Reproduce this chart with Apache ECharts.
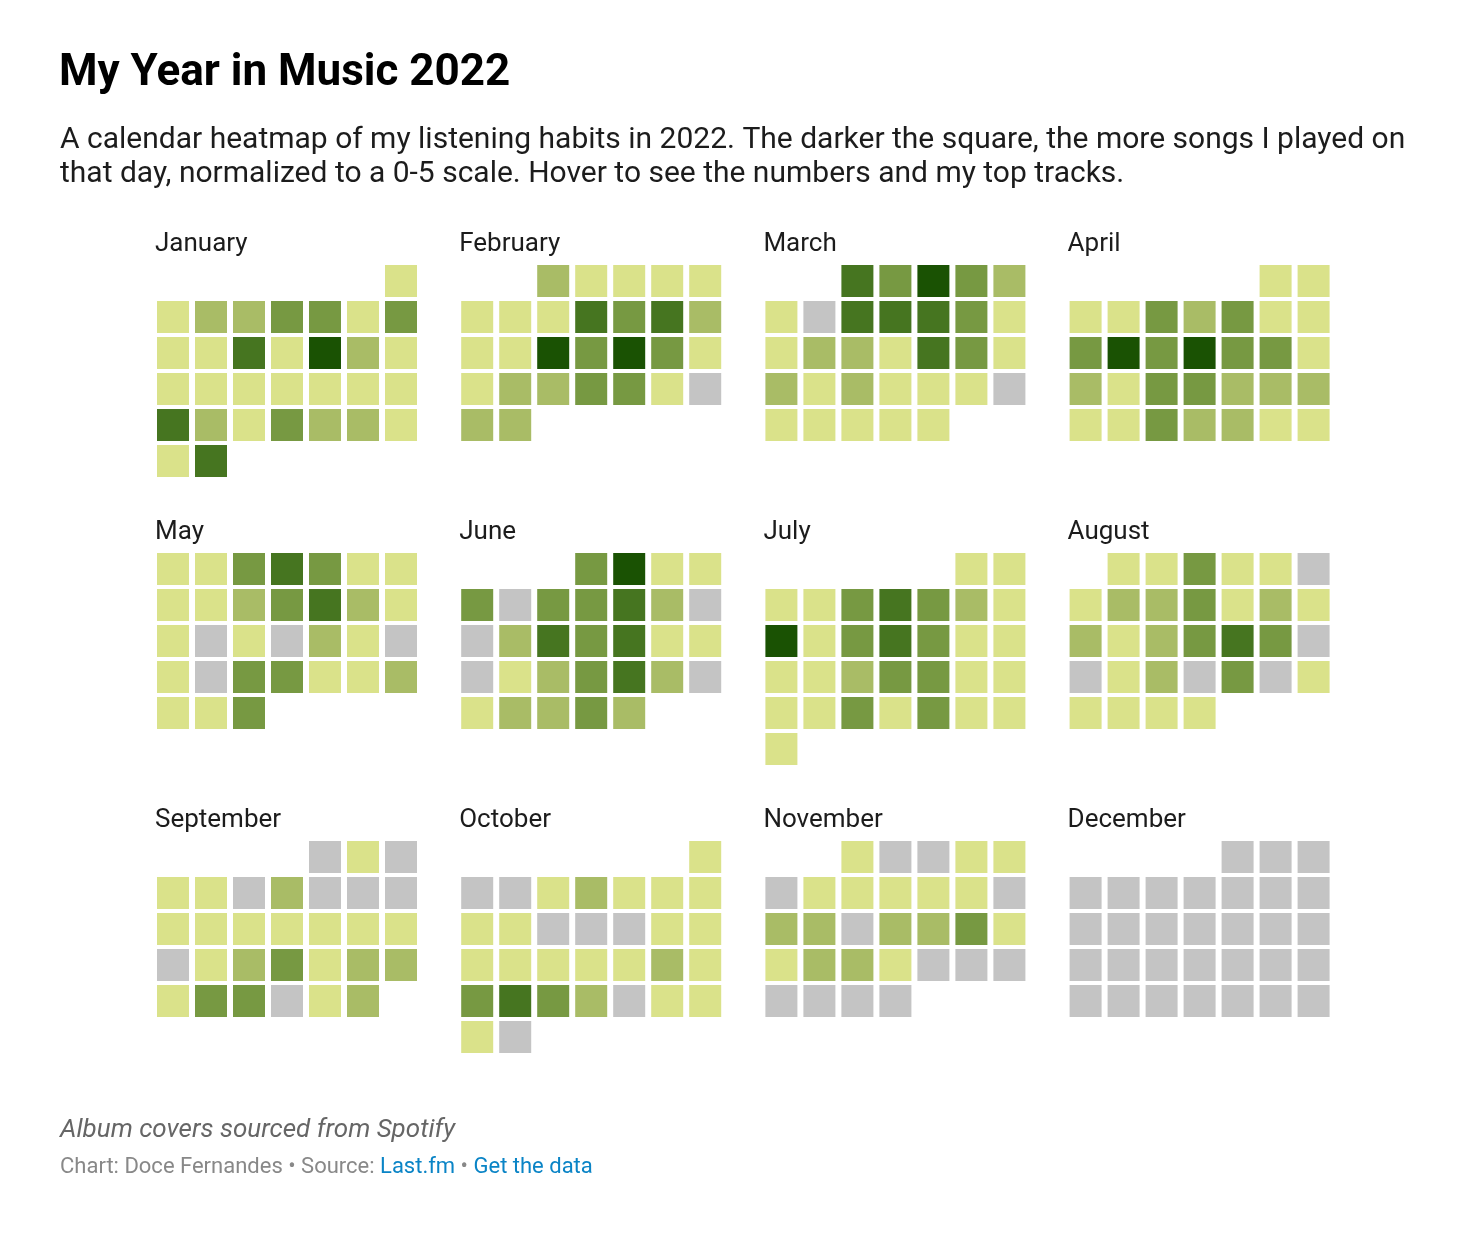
<!DOCTYPE html>
<html>
<head>
<meta charset="utf-8">
<script src="https://cdn.jsdelivr.net/npm/echarts@6/dist/echarts.min.js"></script>
<style>
html,body{margin:0;padding:0;background:#ffffff;}
#chart{width:1474px;height:1236px;}
</style>
</head>
<body>
<div id="chart"></div>
<script>
// ---------- data ----------
const year = 2022;
const monthNames = ['January','February','March','April','May','June','July','August','September','October','November','December'];

// listening level per day (0-5), one array per month
const jan = [1, 1,2,2,3,3,1,3, 1,1,4,1,5,2,1, 1,1,1,1,1,1,1, 4,2,1,3,2,2,1, 1,4];
const feb = [2,1,1,1,1, 1,1,1,4,3,4,2, 1,1,5,3,5,3,1, 1,2,2,3,3,1,0, 2,2];
const mar = [4,3,5,3,2, 1,0,4,4,4,3,1, 1,2,2,1,4,3,1, 2,1,2,1,1,1,0, 1,1,1,1,1];
const apr = [1,1, 1,1,3,2,3,1,1, 3,5,3,5,3,3,1, 2,1,3,3,2,2,2, 1,1,3,2,2,1,1];
const may = [1,1,3,4,3,1,1, 1,1,2,3,4,2,1, 1,0,1,0,2,1,0, 1,0,3,3,1,1,2, 1,1,3];
const jun = [3,5,1,1, 3,0,3,3,4,2,0, 0,2,4,3,4,1,1, 0,1,2,3,4,2,0, 1,2,2,3,2];
const jul = [1,1, 1,1,3,4,3,2,1, 5,1,3,4,3,1,1, 1,1,2,3,3,1,1, 1,1,3,1,3,1,1, 1];
const aug = [1,1,3,1,1,0, 1,2,2,3,1,2,1, 2,1,2,3,4,3,0, 0,1,2,0,3,0,1, 1,1,1,1];
const sep = [0,1,0, 1,1,0,2,0,0,0, 1,1,1,1,1,1,1, 0,1,2,3,1,2,2, 1,3,3,0,1,2];
const oct = [1, 0,0,1,2,1,1,1, 1,1,0,0,0,1,1, 1,1,1,1,1,2,1, 3,4,3,2,0,1,1, 1,0];
const nov = [1,0,0,1,1, 0,1,1,1,1,1,0, 2,2,0,2,2,3,1, 1,2,2,1,0,0,0, 0,0,0,0];
const dec = [0,0,0, 0,0,0,0,0,0,0, 0,0,0,0,0,0,0, 0,0,0,0,0,0,0, 0,0,0,0,0,0,0];

const monthValues = [jan, feb, mar, apr, may, jun, jul, aug, sep, oct, nov, dec];
const levelColors = ['#c4c4c4', '#dae28a', '#a9bc66', '#779942', '#467520', '#1a5203'];

// ---------- layout ----------
const colLeft = [154, 458.2, 762.4, 1066.6];
const rowTop = [263, 551, 839];

const pad = n => (n < 10 ? '0' : '') + n;

const calendars = [];
const series = [];
const graphics = [];

monthValues.forEach((vals, m) => {
  const c = m % 4, r = Math.floor(m / 4);
  calendars.push({
    orient: 'vertical',
    range: year + '-' + pad(m + 1),
    left: colLeft[c],
    top: rowTop[r],
    cellSize: [38, 36],
    dayLabel: { show: false, firstDay: 0 },
    monthLabel: { show: false },
    yearLabel: { show: false },
    splitLine: { show: false },
    itemStyle: { color: 'transparent', borderWidth: 0 }
  });
  series.push({
    type: 'scatter',
    coordinateSystem: 'calendar',
    calendarIndex: m,
    symbol: 'rect',
    symbolSize: [32, 32],
    silent: true,
    itemStyle: { color: p => levelColors[p.value[1]], opacity: 1 },
    data: vals.map((v, d) => [year + '-' + pad(m + 1) + '-' + pad(d + 1), v])
  });
  graphics.push({
    type: 'text',
    left: colLeft[c] + 1,
    top: rowTop[r] - 32,
    style: { text: monthNames[m], font: '26px Roboto', fill: '#1c1c1c' }
  });
});

graphics.push(
  { type: 'text', left: 59, top: 52, style: { text: 'My Year in Music 2022', font: 'bold 44px Roboto', fill: '#000' } },
  { type: 'text', left: 60, top: 123, style: {
      text: 'A calendar heatmap of my listening habits in 2022. The darker the square, the more songs I played on\nthat day, normalized to a 0-5 scale. Hover to see the numbers and my top tracks.',
      font: '30px Roboto', fill: '#1c1c1c', lineHeight: 34 } },
  { type: 'text', left: 60, top: 1117, style: { text: 'Album covers sourced from Spotify', font: 'italic 26px Roboto', fill: '#666666' } },
  { type: 'text', left: 60, top: 1156, style: {
      text: '{g|Chart: Doce Fernandes • Source: }{b|Last.fm}{g| • }{b|Get the data}',
      rich: {
        g: { font: '22px Roboto', fill: '#888888' },
        b: { font: '22px Roboto', fill: '#0a84c6' }
      } } }
);

const chart = echarts.init(document.getElementById('chart'), null, { renderer: 'canvas' });
chart.setOption({
  backgroundColor: '#ffffff',
  animation: false,
  calendar: calendars,
  series: series,
  graphic: graphics
});
</script>
</body>
</html>
